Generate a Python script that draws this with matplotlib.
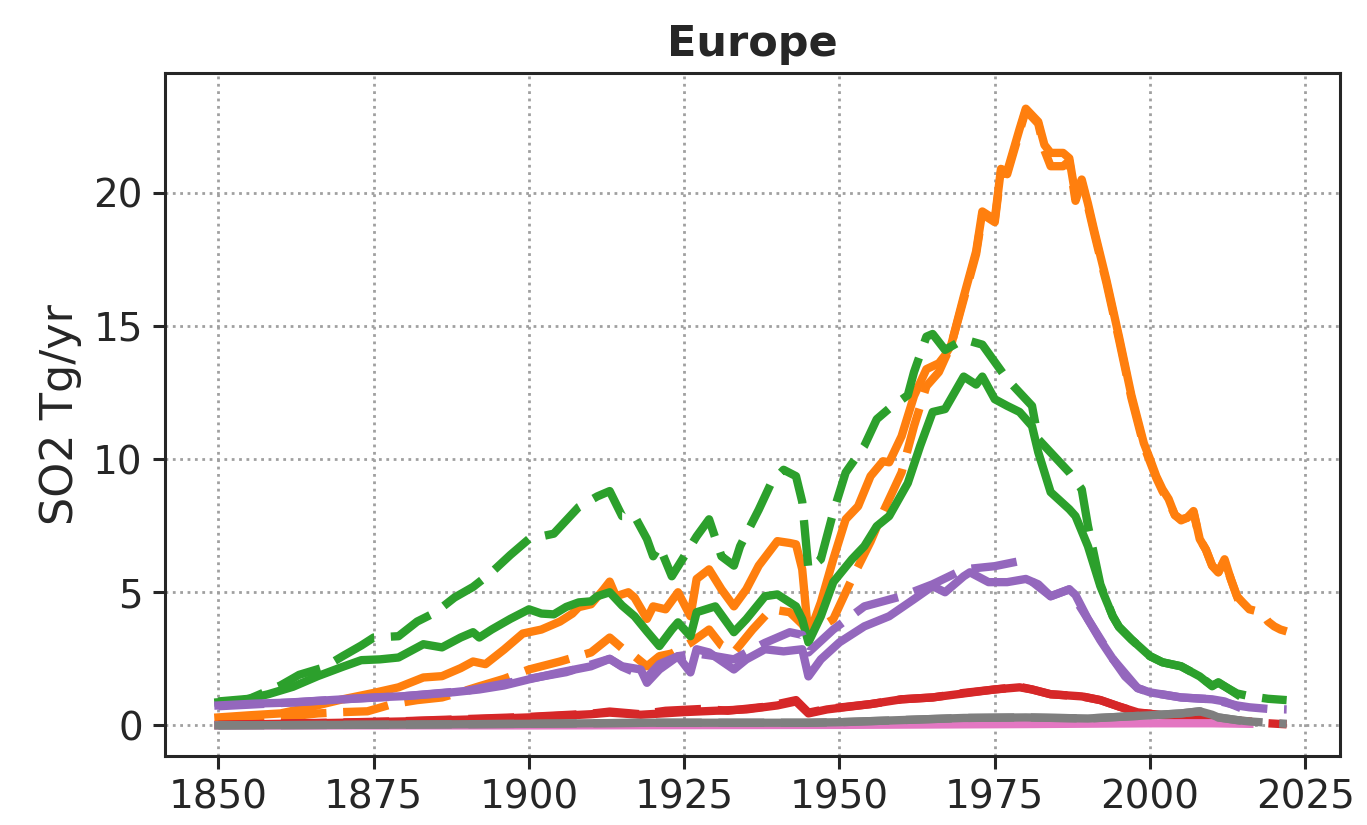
import matplotlib
matplotlib.use('Agg')
import matplotlib.pyplot as plt
import numpy as np

# SO2 emissions for Europe, Tg/yr
# solid = older inventory (to 2014), dashed = newer inventory (to 2022)

orange_yr = [1850, 1855, 1860, 1865, 1870, 1875, 1879, 1883, 1886, 1889, 1891, 1893, 1896, 1899,
             1902, 1905, 1907, 1908, 1910, 1912, 1913, 1914, 1916, 1917, 1919, 1920, 1922, 1924,
             1926, 1927, 1929, 1931, 1933, 1935, 1937, 1940, 1942, 1943, 1944, 1945, 1947, 1949,
             1951, 1953, 1955, 1957, 1958, 1960, 1962, 1964, 1966, 1967, 1968, 1970, 1972, 1973,
             1975, 1976, 1977, 1979, 1980, 1982, 1983, 1984, 1986, 1987, 1988, 1989, 1990, 1991,
             1993, 1995, 1997, 1999, 2000, 2001, 2002, 2003, 2004, 2005, 2006, 2007, 2008, 2009,
             2010, 2011, 2012, 2013, 2014]
orange_solid = [0.30, 0.38, 0.45, 0.70, 0.98, 1.22, 1.43, 1.80, 1.85, 2.15, 2.40, 2.30, 2.85, 3.45,
                3.60, 3.90, 4.20, 4.44, 4.55, 5.10, 5.40, 4.85, 5.00, 4.80, 4.00, 4.47, 4.36, 5.00,
                4.10, 5.50, 5.86, 5.11, 4.47, 5.11, 6.00, 6.92, 6.85, 6.80, 5.86, 3.35, 4.62, 6.24,
                7.74, 8.23, 9.36, 9.92, 9.88, 10.86, 12.37, 13.38, 13.60, 13.90, 14.30, 16.10, 17.80, 19.30,
                19.00, 20.90, 20.80, 22.40, 23.16, 22.67, 21.80, 21.50, 21.50, 21.30, 19.90, 20.50, 19.60, 18.60,
                16.70, 14.60, 12.40, 10.60, 10.00, 9.36, 8.87, 8.50, 7.90, 7.74, 7.80, 8.05, 7.00, 6.60,
                6.00, 5.75, 6.24, 5.50, 4.85]

orange_d_yr = [1850, 1856, 1862, 1866, 1870, 1874, 1878, 1882, 1886, 1889, 1892, 1896, 1900, 1905,
               1910, 1913, 1915, 1917, 1919, 1921, 1923, 1926, 1929, 1931, 1933, 1936, 1939, 1942,
               1944, 1945, 1947, 1949, 1952, 1955, 1957, 1960, 1962, 1964, 1966, 1968, 1970, 1972,
               1973, 1975, 1976, 1977, 1979, 1980, 1982, 1983, 1984, 1986, 1987, 1988, 1989, 1990,
               1991, 1993, 1995, 1997, 1999, 2000, 2001, 2002, 2003, 2004, 2005, 2006, 2007, 2008,
               2009, 2010, 2011, 2012, 2013, 2014, 2015, 2016, 2017, 2018, 2019, 2020, 2021, 2022]
orange_dash = [0.22, 0.30, 0.35, 0.45, 0.50, 0.53, 0.80, 0.95, 1.05, 1.25, 1.47, 1.75, 2.10, 2.40,
               2.74, 3.30, 2.90, 2.60, 2.22, 2.60, 2.70, 3.10, 3.60, 3.00, 2.74, 3.60, 4.36, 4.25,
               3.80, 3.45, 3.70, 3.99, 5.50, 6.90, 8.00, 9.50, 11.24, 12.74, 13.27, 14.30, 16.00, 17.70,
               19.20, 18.90, 20.80, 20.70, 22.30, 23.10, 22.60, 21.60, 21.00, 21.00, 21.20, 19.70, 20.40, 19.50,
               18.50, 16.60, 14.50, 12.30, 10.50, 9.90, 9.30, 8.80, 8.40, 7.90, 7.70, 7.80, 8.00, 7.00,
               6.60, 6.00, 5.75, 6.20, 5.50, 4.85, 4.60, 4.36, 4.30, 4.25, 3.90, 3.72, 3.60, 3.53]

green_yr = [1850, 1854, 1858, 1862, 1866, 1870, 1873, 1876, 1879, 1883, 1886, 1889, 1891, 1892,
            1894, 1897, 1900, 1902, 1904, 1906, 1908, 1910, 1911, 1913, 1915, 1917, 1919, 1921,
            1923, 1924, 1926, 1927, 1930, 1933, 1935, 1938, 1940, 1943, 1944, 1945, 1947, 1949,
            1952, 1954, 1956, 1958, 1961, 1963, 1965, 1967, 1970, 1972, 1973, 1975, 1977, 1979,
            1981, 1982, 1984, 1987, 1988, 1990, 1992, 1994, 1995, 1997, 2000, 2002, 2005, 2008,
            2010, 2011, 2014]
green_solid = [0.87, 0.95, 1.17, 1.45, 1.85, 2.20, 2.45, 2.48, 2.55, 3.05, 2.93, 3.30, 3.50, 3.30,
               3.60, 4.00, 4.36, 4.20, 4.17, 4.45, 4.62, 4.66, 4.85, 5.00, 4.50, 4.10, 3.53, 2.98,
               3.60, 3.87, 3.35, 4.25, 4.47, 3.50, 3.99, 4.85, 4.92, 4.47, 3.99, 3.12, 4.10, 5.38,
               6.24, 6.73, 7.48, 7.86, 9.10, 10.50, 11.77, 11.88, 13.10, 12.80, 13.10, 12.25, 12.00, 11.77,
               11.24, 10.26, 8.76, 8.12, 7.86, 6.73, 5.23, 4.10, 3.70, 3.23, 2.60, 2.37, 2.22, 1.84,
               1.47, 1.62, 1.17]

green_d_yr = [1850, 1855, 1860, 1863, 1867, 1870, 1873, 1875, 1879, 1882, 1885, 1888, 1891, 1894,
              1897, 1900, 1904, 1906, 1908, 1911, 1913, 1915, 1917, 1919, 1920, 1921, 1923, 1925,
              1927, 1929, 1931, 1933, 1934, 1937, 1939, 1941, 1943, 1944, 1945, 1947, 1949, 1951,
              1954, 1956, 1958, 1961, 1962, 1964, 1965, 1967, 1970, 1973, 1975, 1977, 1979, 1981,
              1982, 1985, 1987, 1989, 1990, 1992, 1994, 1995, 1997, 2000, 2002, 2005, 2008, 2010,
              2011, 2014, 2016, 2019, 2022]
green_dash = [0.90, 1.00, 1.50, 1.90, 2.18, 2.60, 3.00, 3.30, 3.35, 3.90, 4.25, 4.80, 5.20, 5.75,
              6.40, 7.00, 7.20, 7.70, 8.20, 8.60, 8.80, 7.86, 7.86, 7.00, 6.35, 6.73, 5.60, 6.35,
              7.10, 7.74, 6.35, 6.00, 6.73, 8.10, 9.10, 9.60, 9.36, 8.40, 5.86, 6.24, 8.00, 9.50,
              10.50, 11.50, 11.90, 12.40, 13.27, 14.60, 14.70, 14.10, 14.50, 14.30, 13.65, 13.00, 12.50, 12.00,
              10.75, 10.00, 9.50, 8.87, 7.50, 5.30, 4.10, 3.70, 3.23, 2.60, 2.37, 2.22, 1.84, 1.50,
              1.60, 1.20, 1.10, 1.00, 0.95]

purple_yr = [1850, 1856, 1862, 1868, 1875, 1880, 1884, 1888, 1892, 1896, 1900, 1905, 1910, 1913,
             1915, 1918, 1919, 1921, 1924, 1926, 1927, 1929, 1933, 1935, 1938, 1941, 1944, 1945,
             1947, 1950, 1954, 1958, 1962, 1965, 1967, 1970, 1971, 1974, 1977, 1980, 1982, 1984,
             1987, 1988, 1990, 1992, 1994, 1996, 1998, 2000, 2005, 2010, 2012, 2014]
purple_solid = [0.75, 0.82, 0.86, 0.95, 1.05, 1.10, 1.17, 1.25, 1.35, 1.50, 1.73, 1.99, 2.22, 2.50,
                2.22, 2.10, 1.60, 2.10, 2.60, 1.99, 2.86, 2.74, 2.10, 2.48, 2.86, 2.78, 2.86, 1.84,
                2.48, 3.12, 3.72, 4.10, 4.74, 5.23, 5.00, 5.60, 5.75, 5.38, 5.38, 5.50, 5.30, 4.85,
                5.11, 4.90, 3.99, 3.20, 2.50, 1.84, 1.40, 1.24, 1.05, 0.98, 0.90, 0.71]

# newer inventory stops at 1979 for this sector, picks up again on the old values
purple_d_yr = [1850, 1860, 1870, 1880, 1890, 1900, 1906, 1913, 1915, 1919, 1921, 1924, 1927, 1930,
               1933, 1936, 1938, 1942, 1944, 1945, 1949, 1954, 1960, 1965, 1970, 1975, 1979, 1980,
               1981, 1984, 1987, 1990, 1994, 1998, 2000, 2005, 2010, 2014, 2016, 2019, 2022]
purple_dash = [0.72, 0.84, 0.98, 1.10, 1.30, 1.75, 2.00, 2.50, 2.20, 1.80, 2.30, 2.60, 2.70, 2.60,
               2.48, 2.86, 3.10, 3.50, 3.40, 2.74, 3.60, 4.47, 4.85, 5.30, 5.86, 5.98, 6.17, np.nan,
               5.40, 4.85, 5.11, 3.99, 2.50, 1.40, 1.24, 1.05, 0.98, 0.75, 0.68, 0.62, 0.60]

red_yr = [1850, 1860, 1870, 1880, 1890, 1900, 1910, 1913, 1918, 1925, 1930, 1935, 1940, 1943,
          1945, 1948, 1955, 1960, 1965, 1970, 1975, 1979, 1981, 1984, 1989, 1992, 1995, 1998,
          2002, 2005, 2010, 2014]
red_solid = [0.02, 0.06, 0.10, 0.15, 0.22, 0.30, 0.42, 0.48, 0.40, 0.50, 0.55, 0.60, 0.75, 0.90,
             0.45, 0.60, 0.80, 0.98, 1.05, 1.20, 1.35, 1.43, 1.35, 1.17, 1.09, 0.95, 0.71, 0.49,
             0.38, 0.30, 0.22, 0.18]

red_d_yr = [1850, 1860, 1870, 1880, 1890, 1900, 1910, 1913, 1918, 1922, 1928, 1932, 1938, 1943,
            1945, 1948, 1955, 1960, 1965, 1970, 1975, 1979, 1981, 1984, 1989, 1992, 1995, 1998,
            2002, 2005, 2010, 2014, 2016, 2019, 2022]
red_dash = [0.02, 0.07, 0.11, 0.16, 0.24, 0.32, 0.44, 0.52, 0.42, 0.55, 0.62, 0.55, 0.70, 0.95,
            0.48, 0.62, 0.80, 0.98, 1.05, 1.22, 1.35, 1.45, 1.35, 1.17, 1.09, 0.95, 0.71, 0.49,
            0.38, 0.30, 0.22, 0.18, 0.15, 0.08, 0.04]

gray_yr = [1850, 1880, 1900, 1920, 1945, 1950, 1960, 1970, 1980, 1990, 2000, 2005, 2008, 2010,
           2011, 2014]
gray_solid = [0.00, 0.03, 0.06, 0.10, 0.10, 0.12, 0.20, 0.28, 0.30, 0.26, 0.38, 0.45, 0.53, 0.40,
              0.30, 0.20]

gray_d_yr = [1850, 1880, 1900, 1920, 1945, 1950, 1960, 1970, 1980, 1990, 2000, 2005, 2008, 2010,
             2011, 2014, 2016, 2019, 2022]
gray_dash = [0.00, 0.03, 0.06, 0.10, 0.10, 0.12, 0.20, 0.28, 0.30, 0.26, 0.38, 0.45, 0.53, 0.40,
             0.30, 0.20, 0.15, 0.10, 0.06]

pink_yr = [1850, 1900, 1950, 1980, 2000, 2010, 2016]
pink_solid = [0.00, 0.00, 0.02, 0.05, 0.08, 0.08, 0.06]

DASH = (0, (5.5, 2.0))
LW = 3.0

fig = plt.figure(figsize=(6.835, 4.125), dpi=200)
ax = fig.add_subplot(111)
fig.subplots_adjust(left=0.1207, right=0.9803, bottom=0.0836, top=0.9115)

ax.plot(orange_yr, orange_solid, color='#ff7f0e', lw=LW)
ax.plot(orange_d_yr, orange_dash, color='#ff7f0e', lw=LW, linestyle=DASH)
ax.plot(green_yr, green_solid, color='#2ca02c', lw=LW)
ax.plot(green_d_yr, green_dash, color='#2ca02c', lw=LW, linestyle=DASH)
ax.plot(red_yr, red_solid, color='#d62728', lw=LW)
ax.plot(red_d_yr, red_dash, color='#d62728', lw=LW, linestyle=DASH)
ax.plot(purple_yr, purple_solid, color='#9467bd', lw=LW)
ax.plot(purple_d_yr, purple_dash, color='#9467bd', lw=LW, linestyle=DASH)
ax.plot(pink_yr, pink_solid, color='#e377c2', lw=LW)
ax.plot(gray_yr, gray_solid, color='#7f7f7f', lw=LW)
ax.plot(gray_d_yr, gray_dash, color='#7f7f7f', lw=LW, linestyle=DASH)

ax.set_xticks(np.arange(1850, 2026, 25))
ax.set_yticks([0, 5, 10, 15, 20])
ax.set_xlim(1841.4, 2030.6)
ax.set_ylim(-1.15, 24.5)
ax.grid(True, linestyle=':', color='#a0a0a0', linewidth=1.0)
ax.set_axisbelow(True)
ax.tick_params(direction='out', length=4.5, width=1.1, labelsize=14, colors='#262626')
for sp in ax.spines.values():
    sp.set_linewidth(1.1)
    sp.set_color('#262626')
ax.set_ylabel('SO2 Tg/yr', fontsize=16, color='#262626')
ax.set_title('Europe', fontsize=15.5, fontweight='bold', color='#262626')

plt.savefig('out.png', dpi=200)
